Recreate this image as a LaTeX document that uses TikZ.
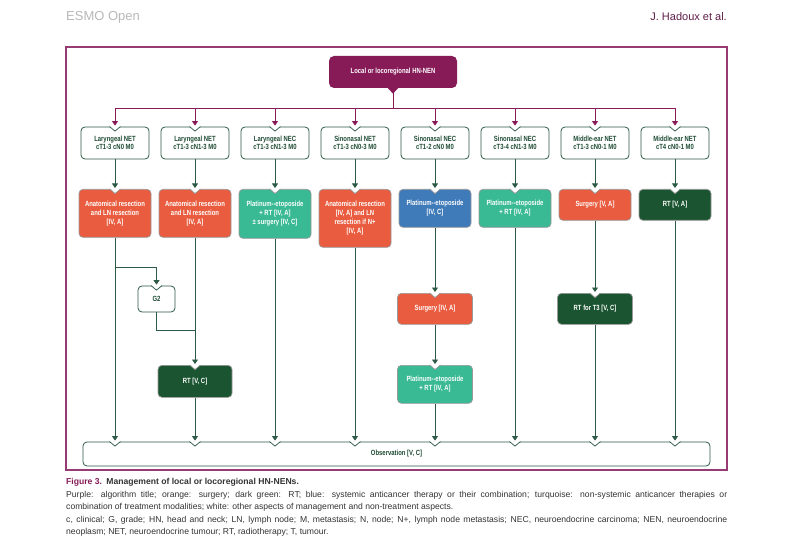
\documentclass[tikz,border=0pt]{standalone}
\usepackage{fontspec}
\setmainfont{Liberation Sans}
\newfontfamily\boxfont{Liberation Sans}[FakeStretch=0.79]
\usetikzlibrary{arrows.meta}

\definecolor{hnpurple}{RGB}{135,27,88}
\definecolor{hnframe}{RGB}{150,60,115}
\definecolor{hnorange}{RGB}{233,92,64}
\definecolor{hnturq}{RGB}{57,185,148}
\definecolor{hnblue}{RGB}{63,122,185}
\definecolor{hndark}{RGB}{27,84,48}
\definecolor{hnline}{RGB}{45,90,70}
\definecolor{hntext}{RGB}{30,75,52}

% V cut in the top edge of a box
\newcommand{\vnotch}[2]{%
  \fill[white] ([shift={(-5.5pt,1pt)}]#1) -- ([yshift=-4.5pt]#1) -- ([shift={(5.5pt,1pt)}]#1) -- cycle;
  \draw[#2, line width=0.7pt] ([xshift=-5.5pt]#1) -- ([yshift=-4.5pt]#1) -- ([xshift=5.5pt]#1);}

\begin{document}
\begin{tikzpicture}[x=1pt, y=-1pt,
  ttl/.style={fill=hnpurple, rounded corners=5pt, minimum width=128pt, minimum height=32pt,
    text=white, font=\boxfont\bfseries\fontsize{7.5}{9}\selectfont},
  hdr/.style={draw=hnline, line width=0.8pt, fill=white, rounded corners=4pt, minimum width=68pt,
    minimum height=32pt, align=center, text=hntext, font=\boxfont\bfseries\fontsize{7.5}{8.4}\selectfont},
  tx/.style={draw=black!40, line width=0.7pt, rounded corners=4pt, minimum width=72pt, anchor=north,
    align=center, text=white, font=\boxfont\bfseries\fontsize{7.5}{9}\selectfont},
  arr/.style={draw=hnline, line width=0.8pt, -{Triangle[width=6pt,length=4.5pt]}, shorten >=1pt},
  ln/.style={draw=hnline, line width=0.8pt},
  parr/.style={draw=hnpurple, line width=0.9pt, -{Triangle[width=6pt,length=4.5pt]}, shorten >=1pt},
  capt/.style={anchor=base west, inner sep=0pt, text=black!80, font=\fontsize{8.6}{10}\selectfont}]
\fill[white] (0,0) rectangle (800,553);
\useasboundingbox (0,0) rectangle (800,553);
%\draw[help lines] (0,0) grid[step=50] (800,553);

% page head
\node[anchor=west, inner sep=0pt, text=black!28, font=\fontsize{13}{15}\selectfont] (jrnl) at (66,17) {ESMO Open};
\node[anchor=east, inner sep=0pt, text={rgb,255:red,95;green,30;blue,72}, font=\fontsize{11}{13}\selectfont] (auth) at (727,17) {J. Hadoux et al.};

\draw[hnframe, line width=1.2pt] (66,47) rectangle (727,470);

% title
\node[ttl] (ttl) at (393,72) {Local or locoregional HN-NEN};
\fill[hnpurple] ([shift={(-5.5pt,0.5pt)}]ttl.south) -- ([yshift=-5.5pt]ttl.south) -- ([shift={(5.5pt,0.5pt)}]ttl.south) -- cycle;
\coordinate (bus) at (393,108);

% sites and stages
\node[hdr] (h1) at (115,143) {Laryngeal NET\\cT1-3 cN0 M0};
\node[hdr] (h2) at (195,143) {Laryngeal NET\\cT1-3 cN1-3 M0};
\node[hdr] (h3) at (275,143) {Laryngeal NEC\\cT1-3 cN1-3 M0};
\node[hdr] (h4) at (355,143) {Sinonasal NET\\cT1-3 cN0-3 M0};
\node[hdr] (h5) at (435,143) {Sinonasal NEC\\cT1-2 cN0 M0};
\node[hdr] (h6) at (515,143) {Sinonasal NEC\\cT3-4 cN1-3 M0};
\node[hdr] (h7) at (595,143) {Middle-ear NET\\cT1-3 cN0-1 M0};
\node[hdr] (h8) at (675,143) {Middle-ear NET\\cT4 cN0-1 M0};

% first treatment
\node[tx, fill=hnorange, minimum height=48pt] (t1) at (115,189) {Anatomical resection\\and LN resection\\{}[IV, A]};
\node[tx, fill=hnorange, minimum height=48pt] (t2) at (195,189) {Anatomical resection\\and LN resection\\{}[IV, A]};
\node[tx, fill=hnturq, minimum height=49pt] (t3) at (275,189) {Platinum--etoposide\\+ RT [IV, A]\\± surgery [IV, C]};
\node[tx, fill=hnorange, minimum height=58pt] (t4) at (355,189) {Anatomical resection\\{}[IV, A] and LN\\resection if N+\\{}[IV, A]};
\node[tx, fill=hnblue, minimum height=38pt] (t5) at (435,189) {Platinum--etoposide\\{}[IV, C]};
\node[tx, fill=hnturq, minimum height=38pt] (t6) at (515,189) {Platinum--etoposide\\+ RT [IV, A]};
\node[tx, fill=hnorange, minimum height=31pt] (t7) at (595,189) {Surgery [V, A]};
\node[tx, fill=hndark, minimum height=31pt] (t8) at (675,189) {RT [V, A]};

% further steps
\node[hdr, minimum width=37pt, minimum height=26pt] (g2) at (156.5,299) {G2};
\node[tx, fill=hndark, minimum width=74pt, minimum height=32pt] (r2) at (195,365) {RT [V, C]};
\node[tx, fill=hnorange, minimum width=75pt, minimum height=31pt] (s5) at (435,293) {Surgery [IV, A]};
\node[tx, fill=hnturq, minimum width=75pt, minimum height=38pt] (p5) at (435,365) {Platinum--etoposide\\+ RT [IV, A]};
\node[tx, fill=hndark, minimum width=75pt, minimum height=31pt] (r7) at (595,293) {RT for T3 [V, C]};
\node[hdr, minimum width=627pt, minimum height=24pt] (obs) at (396.5,454) {Observation [V, C]};

\coordinate (o1) at (obs.north -| t1);
\coordinate (o2) at (obs.north -| t2);
\coordinate (o3) at (obs.north -| t3);
\coordinate (o4) at (obs.north -| t4);
\coordinate (o5) at (obs.north -| t5);
\coordinate (o6) at (obs.north -| t6);
\coordinate (o7) at (obs.north -| t7);
\coordinate (o8) at (obs.north -| t8);

% notches
\vnotch{h1.north}{hnline} \vnotch{h2.north}{hnline} \vnotch{h3.north}{hnline} \vnotch{h4.north}{hnline}
\vnotch{h5.north}{hnline} \vnotch{h6.north}{hnline} \vnotch{h7.north}{hnline} \vnotch{h8.north}{hnline}
\vnotch{t1.north}{black!40} \vnotch{t2.north}{black!40} \vnotch{t3.north}{black!40} \vnotch{t4.north}{black!40}
\vnotch{t5.north}{black!40} \vnotch{t6.north}{black!40} \vnotch{t7.north}{black!40} \vnotch{t8.north}{black!40}
\vnotch{g2.north}{hnline} \vnotch{r2.north}{black!40} \vnotch{s5.north}{black!40}
\vnotch{p5.north}{black!40} \vnotch{r7.north}{black!40}
\vnotch{o1}{hnline} \vnotch{o2}{hnline} \vnotch{o3}{hnline} \vnotch{o4}{hnline}
\vnotch{o5}{hnline} \vnotch{o6}{hnline} \vnotch{o7}{hnline} \vnotch{o8}{hnline}

% title to sites
\draw[hnpurple, line width=0.9pt] (ttl.south) -- (bus);
\draw[hnpurple, line width=0.9pt] (h1 |- bus) -- (h8 |- bus);
\draw[parr] (h1 |- bus) -- (h1);
\draw[parr] (h2 |- bus) -- (h2);
\draw[parr] (h3 |- bus) -- (h3);
\draw[parr] (h4 |- bus) -- (h4);
\draw[parr] (h5 |- bus) -- (h5);
\draw[parr] (h6 |- bus) -- (h6);
\draw[parr] (h7 |- bus) -- (h7);
\draw[parr] (h8 |- bus) -- (h8);

% sites to treatment
\draw[arr] (h1) -- (t1);
\draw[arr] (h2) -- (t2);
\draw[arr] (h3) -- (t3);
\draw[arr] (h4) -- (t4);
\draw[arr] (h5) -- (t5);
\draw[arr] (h6) -- (t6);
\draw[arr] (h7) -- (t7);
\draw[arr] (h8) -- (t8);

% down to observation
\coordinate (k1) at (115,267);
\coordinate (k2) at (195,330);
\draw[arr] (t1) -- (o1);
\draw[arr] (k1) -| (g2);
\draw[ln] (g2) |- (k2);
\draw[arr] (t2) -- (r2);
\draw[arr] (r2) -- (o2);
\draw[arr] (t3) -- (o3);
\draw[arr] (t4) -- (o4);
\draw[arr] (t5) -- (s5);
\draw[arr] (s5) -- (p5);
\draw[arr] (p5) -- (o5);
\draw[arr] (t6) -- (o6);
\draw[arr] (t7) -- (r7);
\draw[arr] (r7) -- (o7);
\draw[arr] (t8) -- (o8);

% caption
\node[capt, font=\bfseries\fontsize{8.6}{10}\selectfont] (c0) at (66,484) {\textcolor{hnpurple}{Figure 3.}\enspace Management of local or locoregional HN-NENs.};
\node[capt] (c1) at (66,497) {\makebox[661pt][s]{Purple: algorithm title; orange: surgery; dark green: RT; blue: systemic anticancer therapy or their combination; turquoise: non-systemic anticancer therapies or}};
\node[capt] (c2) at (66,509.5) {combination of treatment modalities; white: other aspects of management and non-treatment aspects.};
\node[capt] (c3) at (66,522) {\makebox[661pt][s]{c, clinical; G, grade; HN, head and neck; LN, lymph node; M, metastasis; N, node; N+, lymph node metastasis; NEC, neuroendocrine carcinoma; NEN, neuroendocrine}};
\node[capt] (c4) at (66,534.5) {neoplasm; NET, neuroendocrine tumour; RT, radiotherapy; T, tumour.};
\end{tikzpicture}
\end{document}
